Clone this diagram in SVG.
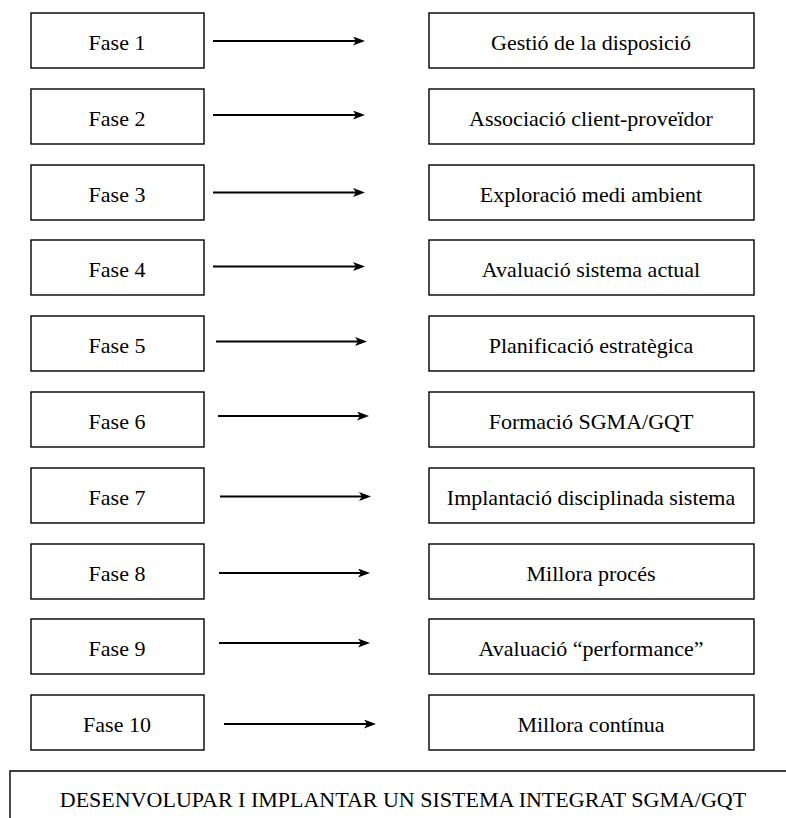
<svg xmlns="http://www.w3.org/2000/svg" width="786" height="818" viewBox="0 0 786 818">
<style>
  .box { fill: #ffffff; stroke: #000000; stroke-width: 1.4; }
  .lbl { font-family: "Liberation Serif", "Times New Roman", serif; font-size: 22px; fill: #000000; text-anchor: middle; }
  .arr { stroke: #000000; stroke-width: 2.2; fill: none; marker-end: url(#ah); }
</style>
<defs>
  <marker id="ah" markerUnits="userSpaceOnUse" markerWidth="14" markerHeight="11" refX="6" refY="4.5" orient="auto">
    <path d="M0,0 L12,4.5 L0,9 L3,4.5 Z" fill="#000000"/>
  </marker>
</defs>
<rect width="786" height="818" fill="#ffffff"/>

<g id="fase1"><rect class="box" x="31" y="13" width="173" height="55"/><text class="lbl" x="117" y="50">Fase 1</text></g>
<g id="fase2"><rect class="box" x="31" y="89" width="173" height="55"/><text class="lbl" x="117" y="126">Fase 2</text></g>
<g id="fase3"><rect class="box" x="31" y="165" width="173" height="55"/><text class="lbl" x="117" y="202">Fase 3</text></g>
<g id="fase4"><rect class="box" x="31" y="240" width="173" height="55"/><text class="lbl" x="117" y="277">Fase 4</text></g>
<g id="fase5"><rect class="box" x="31" y="316" width="173" height="55"/><text class="lbl" x="117" y="353">Fase 5</text></g>
<g id="fase6"><rect class="box" x="31" y="392" width="173" height="55"/><text class="lbl" x="117" y="429">Fase 6</text></g>
<g id="fase7"><rect class="box" x="31" y="468" width="173" height="55"/><text class="lbl" x="117" y="505">Fase 7</text></g>
<g id="fase8"><rect class="box" x="31" y="544" width="173" height="55"/><text class="lbl" x="117" y="581">Fase 8</text></g>
<g id="fase9"><rect class="box" x="31" y="619" width="173" height="55"/><text class="lbl" x="117" y="656">Fase 9</text></g>
<g id="fase10"><rect class="box" x="31" y="695" width="173" height="55"/><text class="lbl" x="117" y="732">Fase 10</text></g>

<g id="act1"><rect class="box" x="429" y="13" width="325" height="55"/><text class="lbl" x="591" y="50">Gestió de la disposició</text></g>
<g id="act2"><rect class="box" x="429" y="89" width="325" height="55"/><text class="lbl" x="591" y="126">Associació client-proveïdor</text></g>
<g id="act3"><rect class="box" x="429" y="165" width="325" height="55"/><text class="lbl" x="591" y="202">Exploració medi ambient</text></g>
<g id="act4"><rect class="box" x="429" y="240" width="325" height="55"/><text class="lbl" x="591" y="277">Avaluació sistema actual</text></g>
<g id="act5"><rect class="box" x="429" y="316" width="325" height="55"/><text class="lbl" x="591" y="353">Planificació estratègica</text></g>
<g id="act6"><rect class="box" x="429" y="392" width="325" height="55"/><text class="lbl" x="591" y="429">Formació SGMA/GQT</text></g>
<g id="act7"><rect class="box" x="429" y="468" width="325" height="55"/><text class="lbl" x="591" y="505">Implantació disciplinada sistema</text></g>
<g id="act8"><rect class="box" x="429" y="544" width="325" height="55"/><text class="lbl" x="591" y="581">Millora procés</text></g>
<g id="act9"><rect class="box" x="429" y="619" width="325" height="55"/><text class="lbl" x="591" y="656">Avaluació “performance”</text></g>
<g id="act10"><rect class="box" x="429" y="695" width="325" height="55"/><text class="lbl" x="591" y="732">Millora contínua</text></g>

<g id="connectors">
  <line class="arr" x1="213" y1="41" x2="359" y2="41"/>
  <line class="arr" x1="213" y1="115" x2="359" y2="115"/>
  <line class="arr" x1="213" y1="192.5" x2="359" y2="192.5"/>
  <line class="arr" x1="213" y1="266.5" x2="359" y2="266.5"/>
  <line class="arr" x1="216" y1="341.5" x2="361" y2="341.5"/>
  <line class="arr" x1="218" y1="416" x2="363" y2="416"/>
  <line class="arr" x1="220" y1="496.5" x2="365" y2="496.5"/>
  <line class="arr" x1="219" y1="573" x2="364" y2="573"/>
  <line class="arr" x1="219" y1="643" x2="364" y2="643"/>
  <line class="arr" x1="224" y1="724" x2="370" y2="724"/>
</g>

<g id="sistema">
  <path d="M10,818 V771 H786" fill="none" stroke="#000000" stroke-width="1.4"/>
  <text class="lbl" x="403" y="807">DESENVOLUPAR I IMPLANTAR UN SISTEMA INTEGRAT SGMA/GQT</text>
</g>
</svg>
